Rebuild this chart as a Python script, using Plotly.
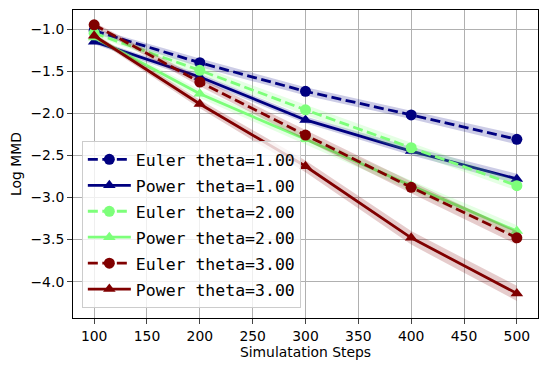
import plotly.graph_objects as go

steps = [100, 200, 300, 400, 500]

euler_t1 = [-1.02, -1.40, -1.74, -2.02, -2.31]
power_t1 = [-1.15, -1.57, -2.08, -2.45, -2.78]
euler_t2 = [-1.05, -1.49, -1.96, -2.41, -2.86]
power_t2 = [-1.10, -1.77, -2.31, -2.86, -3.40]
euler_t3 = [-0.95, -1.63, -2.26, -2.88, -3.48]
power_t3 = [-1.08, -1.89, -2.63, -3.48, -4.14]

# spread used for the shaded bands
euler_t1_sd = [0.03, 0.05, 0.05, 0.05, 0.06]
power_t1_sd = [0.03, 0.04, 0.04, 0.05, 0.06]
euler_t2_sd = [0.03, 0.05, 0.06, 0.06, 0.06]
power_t2_sd = [0.03, 0.05, 0.06, 0.06, 0.07]
euler_t3_sd = [0.03, 0.05, 0.06, 0.07, 0.08]
power_t3_sd = [0.03, 0.05, 0.07, 0.08, 0.09]

series = [
    ("Euler theta=1.00", euler_t1, euler_t1_sd, "#000080", "circle", "10px,4.5px"),
    ("Power theta=1.00", power_t1, power_t1_sd, "#000080", "triangle-up", "solid"),
    ("Euler theta=2.00", euler_t2, euler_t2_sd, "#7dff7a", "circle", "10px,4.5px"),
    ("Power theta=2.00", power_t2, power_t2_sd, "#7dff7a", "triangle-up", "solid"),
    ("Euler theta=3.00", euler_t3, euler_t3_sd, "#800000", "circle", "10px,4.5px"),
    ("Power theta=3.00", power_t3, power_t3_sd, "#800000", "triangle-up", "solid"),
]


def rgba(hexcol, a):
    h = hexcol.lstrip("#")
    return "rgba(%d,%d,%d,%s)" % (int(h[0:2], 16), int(h[2:4], 16), int(h[4:6], 16), a)


fig = go.Figure()
for i, (name, vals, sd, col, sym, dash) in enumerate(series):
    upper = [v + s for v, s in zip(vals, sd)]
    lower = [v - s for v, s in zip(vals, sd)]
    fig.add_trace(go.Scatter(x=steps + steps[::-1], y=upper + lower[::-1], mode="lines",
                             fill="toself", fillcolor=rgba(col, 0.2), line=dict(width=0),
                             hoverinfo="skip", showlegend=False))
    fig.add_trace(go.Scatter(x=steps, y=vals, mode="lines+markers", name=name,
                             legendgroup="g%d" % i,
                             line=dict(color=col, width=2.8, dash=dash),
                             marker=dict(symbol=sym, size=11, color=col)))

# page body has an 8px margin, so the figure is a bit smaller than the window
tick_font = dict(family="DejaVu Sans", size=13.9, color="black")
fig.update_layout(
    width=539, height=363,
    margin=dict(l=65, r=9, t=2, b=53),
    plot_bgcolor="white", paper_bgcolor="white",
    font=tick_font,
    legend=dict(x=0.019, y=0.032, xanchor="left", yanchor="bottom",
                bgcolor="rgba(255,255,255,0.8)", bordercolor="#cccccc", borderwidth=1,
                font=dict(family="DejaVu Sans Mono", size=16.5),
                tracegroupgap=1.5, itemwidth=43),
    xaxis=dict(title=dict(text="Simulatation Steps", standoff=4, font=tick_font),
               range=[80, 520], automargin=False,
               tickvals=[100, 150, 200, 250, 300, 350, 400, 450, 500],
               showgrid=True, gridcolor="#b0b0b0", gridwidth=1,
               showline=True, linecolor="black", linewidth=1, mirror=True,
               ticks="outside", ticklen=5, zeroline=False),
    yaxis=dict(title=dict(text="Log MMD", standoff=6, font=tick_font),
               range=[-4.432, -0.774], automargin=False,
               tickvals=[-4.0, -3.5, -3.0, -2.5, -2.0, -1.5, -1.0],
               ticktext=["\u22124.0", "\u22123.5", "\u22123.0", "\u22122.5", "\u22122.0", "\u22121.5", "\u22121.0"],
               showgrid=True, gridcolor="#b0b0b0", gridwidth=1,
               showline=True, linecolor="black", linewidth=1, mirror=True,
               ticks="outside", ticklen=5, zeroline=False),
)

fig.write_html("out.html")
